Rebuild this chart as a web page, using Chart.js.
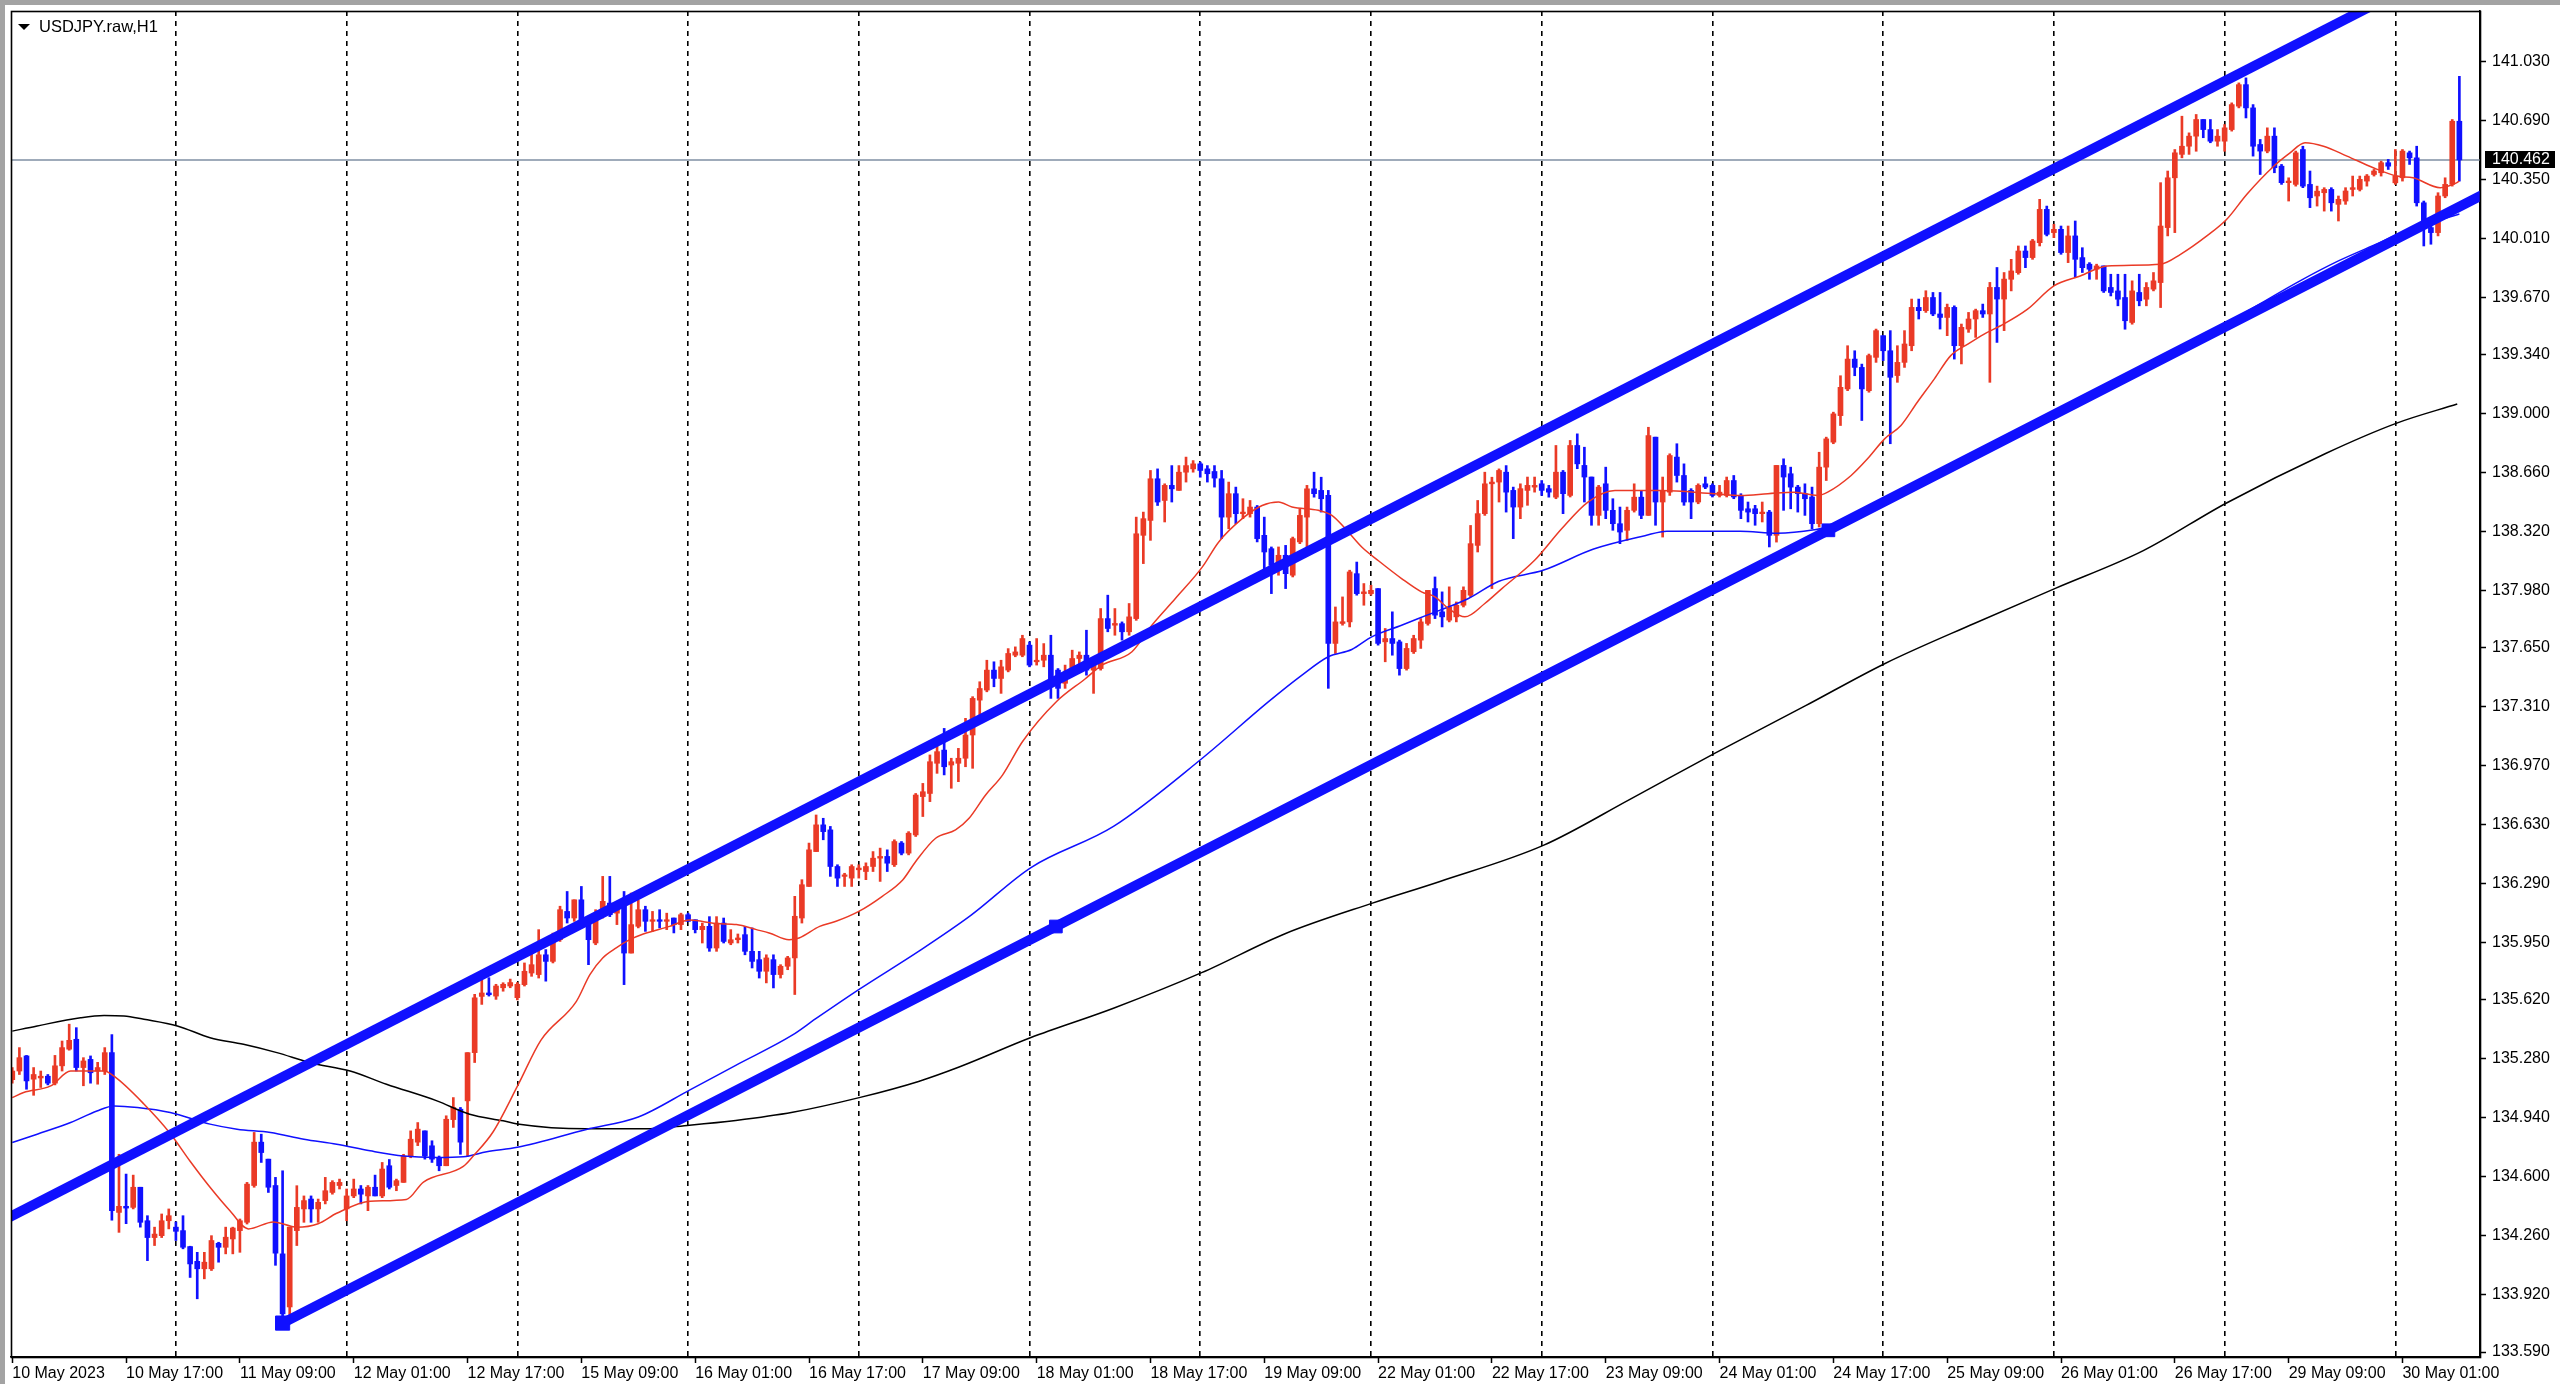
<!DOCTYPE html>
<html>
<head>
<meta charset="utf-8">
<title>USDJPY.raw,H1</title>
<script src="https://cdn.jsdelivr.net/npm/chart.js@4.4.0/dist/chart.umd.min.js"></script>
<style>
html, body { margin: 0; padding: 0; background: #fff; }
#wrap { width: 2560px; height: 1384px; position: relative; }
</style>
</head>
<body>
<div id="wrap"><canvas id="chart"></canvas></div>
<script>
var symbolTitle = "USDJPY.raw,H1";
var lastPrice = 140.462;

// hourly candles, 10 May 01:00 .. 30 May 09:00
var opens = [
  135.16,135.21,135.297,135.163,135.17,135.18,135.14,135.24,135.336,135.393,
  135.23,135.277,135.21,135.21,135.316,134.395,134.43,134.424,134.54,134.347,
  134.25,134.261,134.347,134.31,134.29,134.198,134.113,134.07,134.07,134.217,
  134.194,134.242,134.29,134.338,134.55,134.80,134.702,134.55,134.156,133.85,
  134.29,134.415,134.472,134.415,134.463,134.51,134.55,134.415,134.49,134.53,
  134.49,134.54,134.49,134.664,134.55,134.568,134.72,134.80,134.865,134.779,
  134.712,134.664,134.93,134.99,135.038,135.316,135.64,135.66,135.642,135.69,
  135.70,135.633,135.708,135.775,135.766,135.88,135.842,135.967,136.13,136.092,
  136.197,136.092,135.948,136.10,136.178,136.12,136.188,135.89,136.044,136.14,
  136.073,136.082,136.073,136.092,136.054,136.111,136.082,136.025,136.044,135.919,
  136.063,135.948,135.967,135.996,135.90,135.852,135.785,135.852,135.766,135.814,
  135.862,136.092,136.274,136.475,136.629,136.60,136.389,136.332,136.322,136.37,
  136.36,136.389,136.437,136.447,136.399,136.524,136.466,136.571,136.792,136.81,
  136.984,137.06,136.974,136.984,137.013,137.147,137.348,137.406,137.521,137.473,
  137.521,137.607,137.607,137.665,137.569,137.578,137.607,137.521,137.445,137.492,
  137.588,137.607,137.521,137.53,137.818,137.78,137.789,137.742,137.818,138.298,
  138.384,138.624,138.499,138.586,138.557,138.662,138.681,138.71,138.681,138.666,
  138.624,138.403,138.538,138.423,138.423,138.461,138.298,138.221,138.106,138.183,
  138.068,138.26,138.403,138.566,138.557,138.528,137.675,137.79,137.799,138.077,
  137.962,137.962,137.991,137.684,137.703,137.684,137.53,137.627,137.694,137.79,
  137.991,137.857,137.809,137.828,137.895,137.953,138.24,138.423,138.595,138.605,
  138.662,138.557,138.461,138.557,138.576,138.595,138.567,138.518,138.662,138.528,
  138.816,138.701,138.634,138.413,138.595,138.442,138.365,138.327,138.442,138.518,
  138.413,138.864,138.49,138.547,138.749,138.643,138.557,138.49,138.595,138.586,
  138.528,138.528,138.614,138.528,138.451,138.451,138.423,138.432,138.298,138.701,
  138.653,138.576,138.538,138.519,138.365,138.691,138.835,138.988,139.142,139.314,
  139.266,139.132,139.324,139.449,139.362,139.219,139.295,139.391,139.612,139.593,
  139.669,139.574,139.554,139.612,139.391,139.487,139.545,139.593,139.574,139.727,
  139.66,139.774,139.812,139.937,139.899,139.985,140.177,140.043,140.062,139.928,
  140.024,139.899,139.861,139.832,139.851,139.727,139.707,139.669,139.525,139.698,
  139.659,139.717,139.755,140.072,140.359,140.494,140.541,140.599,140.695,140.637,
  140.570,140.57,140.637,140.772,140.896,140.762,140.551,140.513,140.599,140.426,
  140.331,140.321,140.522,140.321,140.254,140.273,140.292,140.206,140.225,140.292,
  140.292,140.340,140.378,140.388,140.446,140.33,140.359,140.503,140.474,140.215,
  140.072,140.043,140.254,140.321,140.685
];
var highs = [
  135.23,135.345,135.30,135.23,135.21,135.19,135.30,135.383,135.48,135.46,
  135.287,135.297,135.26,135.345,135.42,134.73,134.616,134.61,134.54,134.376,
  134.31,134.386,134.415,134.34,134.376,134.20,134.165,134.165,134.261,134.223,
  134.31,134.31,134.357,134.568,134.856,134.846,134.702,134.597,134.635,134.31,
  134.549,134.49,134.49,134.472,134.597,134.578,134.587,134.53,134.587,134.55,
  134.55,134.61,134.683,134.70,134.587,134.73,134.865,134.913,134.865,134.808,
  134.72,134.952,135.057,135.00,135.316,135.652,135.767,135.748,135.71,135.719,
  135.74,135.72,135.833,135.90,136.025,135.91,136.005,136.16,136.245,136.197,
  136.274,136.10,136.14,136.332,136.332,136.188,136.245,136.236,136.197,136.16,
  136.13,136.14,136.12,136.092,136.12,136.12,136.082,136.063,136.10,136.10,
  136.092,136.025,136.00,136.044,136.035,135.90,135.88,135.88,135.823,135.871,
  136.217,136.313,136.524,136.686,136.667,136.62,136.399,136.35,136.399,136.399,
  136.41,136.475,136.495,136.485,136.543,136.533,136.59,136.81,136.868,137.032,
  137.099,137.185,137.013,137.07,137.243,137.368,137.454,137.578,137.569,137.578,
  137.645,137.655,137.722,137.684,137.703,137.674,137.722,137.53,137.55,137.636,
  137.626,137.751,137.56,137.876,137.953,137.876,137.799,137.905,138.403,138.432,
  138.672,138.681,138.595,138.70,138.70,138.749,138.729,138.72,138.70,138.70,
  138.672,138.605,138.576,138.509,138.499,138.47,138.403,138.231,138.231,138.24,
  138.288,138.451,138.586,138.662,138.633,138.557,137.885,137.943,138.097,138.144,
  138.02,138.01,137.991,137.761,137.857,137.694,137.675,137.722,137.818,137.981,
  138.058,137.972,138.001,137.914,138.001,138.355,138.499,138.662,138.633,138.681,
  138.70,138.576,138.595,138.634,138.634,138.614,138.586,138.816,138.672,138.845,
  138.883,138.806,138.634,138.586,138.691,138.509,138.461,138.461,138.595,138.557,
  138.921,138.864,138.634,138.768,138.826,138.71,138.567,138.595,138.634,138.595,
  138.586,138.634,138.643,138.538,138.49,138.471,138.49,138.442,138.701,138.739,
  138.691,138.586,138.595,138.576,138.777,138.864,139.008,139.218,139.391,139.362,
  139.285,139.343,139.487,139.449,139.478,139.391,139.478,139.66,139.66,139.708,
  139.698,139.698,139.631,139.621,139.516,139.583,139.602,139.631,139.756,139.842,
  139.813,139.889,139.966,139.966,140.004,140.235,140.196,140.091,140.081,140.081,
  140.110,139.956,139.87,139.861,139.851,139.803,139.803,139.803,139.765,139.803,
  139.755,139.813,140.331,140.398,140.522,140.714,140.618,140.724,140.695,140.695,
  140.637,140.666,140.791,140.906,140.935,140.781,140.58,140.647,140.647,140.436,
  140.359,140.513,140.541,140.398,140.311,140.302,140.302,140.254,140.302,140.369,
  140.369,140.378,140.407,140.455,140.465,140.522,140.522,140.513,140.541,140.225,
  140.091,140.273,140.359,140.695,140.944
];
var lows = [
  135.14,135.19,135.105,135.07,135.115,135.13,135.13,135.21,135.33,135.21,
  135.125,135.14,135.134,135.19,134.35,134.28,134.33,134.415,134.31,134.117,
  134.204,134.25,134.30,134.233,134.185,134.02,133.897,134.012,134.06,134.108,
  134.156,134.156,134.165,134.328,134.54,134.683,134.51,134.09,133.757,133.79,
  134.204,134.338,134.338,134.338,134.444,134.50,134.53,134.347,134.48,134.444,
  134.405,134.49,134.48,134.53,134.52,134.568,134.71,134.78,134.702,134.683,
  134.635,134.664,134.885,134.73,134.72,135.259,135.594,135.642,135.623,135.67,
  135.69,135.62,135.70,135.756,135.746,135.728,135.833,135.957,136.063,136.073,
  136.063,135.823,135.938,136.092,136.10,136.054,135.708,135.89,136.035,136.015,
  136.015,136.035,136.025,136.006,136.025,136.073,136.006,135.948,135.90,135.90,
  135.948,135.938,135.948,135.88,135.804,135.746,135.718,135.689,135.746,135.794,
  135.651,136.063,136.274,136.475,136.543,136.332,136.274,136.274,136.274,136.322,
  136.313,136.36,136.303,136.36,136.389,136.456,136.456,136.562,136.677,136.763,
  136.926,136.917,136.84,136.878,136.964,136.955,137.224,137.396,137.425,137.387,
  137.511,137.598,137.598,137.54,137.55,137.54,137.358,137.358,137.416,137.483,
  137.511,137.492,137.387,137.521,137.742,137.722,137.694,137.722,137.808,138.135,
  138.269,138.47,138.375,138.49,138.557,138.605,138.662,138.633,138.605,138.576,
  138.279,138.336,138.365,138.394,138.403,138.26,138.097,137.962,138.068,137.991,
  138.058,138.25,138.202,138.518,138.432,137.416,137.617,137.78,137.77,137.953,
  137.895,137.953,137.665,137.569,137.607,137.492,137.521,137.617,137.646,137.78,
  137.818,137.77,137.799,137.799,137.885,137.943,138.202,138.413,137.991,138.49,
  138.432,138.279,138.394,138.471,138.547,138.528,138.518,138.509,138.423,138.519,
  138.682,138.49,138.356,138.356,138.394,138.327,138.25,138.269,138.432,138.394,
  138.413,138.356,138.288,138.528,138.605,138.471,138.394,138.48,138.567,138.519,
  138.519,138.519,138.509,138.394,138.375,138.356,138.375,138.231,138.259,138.442,
  138.451,138.432,138.413,138.336,138.346,138.614,138.826,138.931,139.132,139.218,
  138.96,139.123,139.295,139.305,138.826,139.18,139.266,139.362,139.545,139.583,
  139.564,139.487,139.449,139.314,139.286,139.468,139.439,139.554,139.18,139.41,
  139.478,139.707,139.803,139.841,139.889,139.966,140.024,140.014,139.918,139.87,
  139.784,139.813,139.774,139.774,139.698,139.678,139.621,139.486,139.515,139.621,
  139.621,139.707,139.611,140.024,140.043,140.474,140.494,140.512,140.59,140.561,
  140.541,140.512,140.628,140.762,140.704,140.484,140.378,140.503,140.388,140.321,
  140.225,140.311,140.302,140.187,140.196,140.167,140.167,140.110,140.206,140.254,
  140.283,140.311,140.369,140.369,140.407,140.321,140.340,140.436,140.196,139.966,
  139.976,140.024,140.244,140.311,140.340
];
var closes = [
  135.21,135.287,135.153,135.19,135.18,135.14,135.24,135.345,135.387,135.23,
  135.268,135.20,135.23,135.316,134.405,134.43,134.42,134.54,134.338,134.25,
  134.27,134.347,134.376,134.286,134.194,134.098,134.07,134.108,134.233,134.194,
  134.252,134.305,134.347,134.558,134.80,134.74,134.54,134.16,133.81,134.31,
  134.424,134.463,134.415,134.453,134.52,134.568,134.568,134.49,134.53,134.50,
  134.54,134.49,134.645,134.54,134.578,134.72,134.817,134.875,134.72,134.702,
  134.664,134.932,135.00,134.80,135.316,135.632,135.66,135.65,135.70,135.71,
  135.72,135.71,135.785,135.823,135.88,135.842,135.986,136.14,136.092,136.197,
  136.063,135.967,136.111,136.188,136.111,136.149,135.89,136.054,136.14,136.073,
  136.082,136.073,136.082,136.054,136.111,136.073,136.025,136.044,135.919,136.063,
  135.957,135.967,135.977,135.90,135.842,135.785,135.862,135.766,135.814,135.862,
  136.102,136.284,136.485,136.629,136.59,136.389,136.322,136.34,136.389,136.38,
  136.389,136.437,136.447,136.408,136.533,136.466,136.581,136.801,136.82,136.993,
  137.051,136.964,136.993,137.013,137.147,137.358,137.415,137.521,137.473,137.54,
  137.617,137.626,137.703,137.55,137.578,137.607,137.435,137.416,137.492,137.588,
  137.607,137.521,137.55,137.818,137.761,137.79,137.742,137.828,138.307,138.394,
  138.624,138.49,138.586,138.566,138.662,138.70,138.71,138.672,138.653,138.628,
  138.403,138.538,138.423,138.432,138.461,138.279,138.202,138.125,138.183,138.077,
  138.279,138.413,138.566,138.538,138.509,137.675,137.799,137.80,138.087,137.962,
  137.972,137.981,137.675,137.703,137.675,137.53,137.646,137.703,137.799,137.981,
  137.838,137.828,137.885,137.895,137.981,138.25,138.423,138.595,138.605,138.672,
  138.547,138.461,138.567,138.586,138.586,138.557,138.547,138.662,138.538,138.816,
  138.71,138.634,138.413,138.576,138.442,138.365,138.317,138.442,138.518,138.413,
  138.873,138.49,138.557,138.758,138.643,138.49,138.49,138.586,138.576,138.528,
  138.547,138.614,138.519,138.442,138.432,138.423,138.432,138.298,138.701,138.634,
  138.576,138.538,138.509,138.365,138.691,138.854,138.998,139.151,139.314,139.266,
  139.142,139.334,139.478,139.362,139.209,139.295,139.401,139.612,139.593,139.669,
  139.574,139.554,139.612,139.391,139.497,139.545,139.593,139.574,139.727,139.66,
  139.775,139.822,139.937,139.899,139.995,140.177,140.033,140.062,139.928,140.024,
  139.889,139.841,139.832,139.851,139.707,139.698,139.659,139.535,139.707,139.650,
  139.727,139.765,140.081,140.359,140.503,140.541,140.599,140.695,140.637,140.570,
  140.599,140.647,140.781,140.896,140.762,140.541,140.513,140.599,140.417,140.331,
  140.340,140.503,140.311,140.244,140.282,140.292,140.215,140.235,140.283,140.302,
  140.350,140.369,140.398,140.446,140.426,140.369,140.513,140.474,140.215,140.072,
  140.043,140.254,140.321,140.685,140.462
];

// moving averages (bar position, price)
var fastMaX = [0,1.6,5.4,8.2,12.9,14.3,18.5,22.2,25,27.8,30.6,33.2,36.7,40,43,45.6,50.3,55.4,57.8,63.4,64.8,67.6,71.1,74.3,79.3,81.2,83,84.9,86.8,88.7,92.4,95.2,99,101.8,104.6,106.4,109.2,110.6,113.5,115.8,119,122.3,125.2,127,129.8,132.6,134.5,136.8,139.2,142,146.8,150.8,153.2,157.4,160.2,163.5,167.3,169.6,172.9,175.7,178,179.9,183.6,185.5,187.4,189.7,192.1,195.3,198.1,200,201.9,204.2,207,209.4,214,217.8,221.5,225.3,231.8,239.3,243,246.8,250.5,253.8,255.2,258.5,260.8,263.2,265.5,267.8,270.2,272.5,274.9,277.2,279.5,283.3,287,290.7,294.5,302,304.8,308.5,311.3,314.1,317.9,320.2,322.3,324.9,328.2,331.9,335.2,337.5,341.3,343.6,344];
var fastMaY = [135.057,135.086,135.124,135.21,135.21,135.18,135.02,134.85,134.69,134.54,134.405,134.30,134.34,134.31,134.33,134.39,134.46,134.47,134.57,134.66,134.72,134.86,135.13,135.387,135.612,135.766,135.862,135.92,135.967,136.0,136.044,136.08,136.06,136.054,136.025,136.006,135.967,135.977,136.044,136.073,136.13,136.217,136.313,136.418,136.552,136.60,136.667,136.80,136.916,137.108,137.34,137.47,137.55,137.627,137.78,137.934,138.116,138.26,138.394,138.47,138.49,138.461,138.442,138.413,138.336,138.231,138.15,138.049,137.972,137.943,137.876,137.828,137.905,137.991,138.154,138.336,138.49,138.557,138.557,138.538,138.528,138.538,138.547,138.528,138.547,138.643,138.739,138.854,138.931,139.065,139.2,139.334,139.40,139.458,139.506,139.602,139.736,139.793,139.851,139.861,139.918,140.024,140.12,140.263,140.426,140.503,140.561,140.541,140.484,140.417,140.369,140.359,140.302,140.33,140.34];

var midMaX = [0,3.5,8.2,11.9,14.3,17.6,22.2,27.8,31.6,36.3,41,45.6,50.3,55,59.7,63.4,66.7,71,80.7,88,95.2,101.7,109.7,112.9,119.2,127.4,134.7,143.2,154.8,167.2,176.6,181.3,185,188.3,191.1,195.3,198.6,204.7,208.9,215.3,222.3,229.5,232.6,242.9,248.1,253.3,256.1,265,275,285,291.2,300,310,321.6,327,332.8,337.5,343.1,344];
var midMaY = [134.798,134.846,134.913,134.98,135.009,135.0,134.971,134.904,134.875,134.856,134.817,134.788,134.75,134.72,134.712,134.716,134.745,134.77,134.873,134.945,135.10,135.243,135.418,135.51,135.685,135.90,136.106,136.383,136.62,137.01,137.339,137.492,137.598,137.64,137.713,137.78,137.834,137.934,138.032,138.098,138.219,138.296,138.322,138.322,138.31,138.33,138.356,138.54,138.75,138.96,139.10,139.27,139.49,139.765,139.88,139.985,140.072,140.139,140.15];

var slowMaX = [0,3.5,9.6,12.9,15.7,18.5,23.2,27.8,32.5,37.2,41.9,47.5,52.6,59.7,64.3,69,71,80.7,88.8,95.2,101.7,109.7,119.2,127.4,133.1,143.2,154.8,167.2,179,191.2,200.7,215.3,227.4,239.3,252.1,263.2,275.8,287.2,299.5,311.2,325.2,335.2,343.7];
var slowMaY = [135.44,135.47,135.517,135.53,135.527,135.508,135.47,135.402,135.364,135.316,135.258,135.21,135.134,135.038,134.961,134.923,134.905,134.877,134.877,134.898,134.925,134.972,135.058,135.15,135.233,135.403,135.572,135.777,136.003,136.178,136.303,136.512,136.776,137.041,137.316,137.558,137.79,137.992,138.208,138.483,138.77,138.945,139.055];

// channel lines drawn on the chart (bar position, price)
var upperLineX = [-1, 348];
var upperLineY = [134.355, 141.694];
var lowerLineX = [38, 146.7, 255.3, 348];
var lowerLineY = [133.757, 136.043, 138.327, 140.276];

// axis ticks
var timeTickX = [0,16,32,48,64,80,96,112,128,144,160,176,192,208,224,240,256,272,288,304,320,336];
var timeTickLabels = ["10 May 2023","10 May 17:00","11 May 09:00","12 May 01:00","12 May 17:00","15 May 09:00","16 May 01:00","16 May 17:00","17 May 09:00","18 May 01:00","18 May 17:00","19 May 09:00","22 May 01:00","22 May 17:00","23 May 09:00","24 May 01:00","24 May 17:00","25 May 09:00","26 May 01:00","26 May 17:00","29 May 09:00","30 May 01:00"];
var dayBreakX = [23,47,71,95,119,143,167,191,215,239,263,287,311,335];
var priceTicks = [141.030,140.690,140.350,140.010,139.670,139.340,139.000,138.660,138.320,137.980,137.650,137.310,136.970,136.630,136.290,135.950,135.620,135.280,134.940,134.600,134.260,133.920,133.590];

var RED = "#ea3a26";
var BLUE = "#1010ff";
var FONT = { family: "'Liberation Sans', Arial, sans-serif", size: 16 };

function pts(xs, ys) {
  return xs.map(function(x, i) { return { x: x, y: ys[i] }; });
}
function candleColor(ctx) {
  var i = ctx.dataIndex;
  return closes[i] >= opens[i] ? RED : BLUE;
}

var bodies = opens.map(function(o, i) { return { x: i, y: [o, closes[i]] }; });
var wicks = lows.map(function(l, i) { return { x: i, y: [l, highs[i]] }; });

var frame = {
  id: "frame",
  beforeDraw: function(chart) {
    var c = chart.ctx;
    c.save();
    c.fillStyle = "#ffffff";
    c.fillRect(0, 0, chart.width, chart.height);
    c.fillStyle = "#a3a3a3";
    c.fillRect(0, 0, chart.width, 5);
    c.fillRect(0, 0, 5, chart.height);
    c.restore();
  },
  afterDraw: function(chart) {
    var c = chart.ctx, a = chart.chartArea, ys = chart.scales.y;
    c.save();
    c.strokeStyle = "#000";
    c.lineWidth = 1.6;
    c.strokeRect(a.left + 0.5, a.top + 0.5, a.right - a.left, a.bottom - a.top);

    // last price tag on the axis
    var py = Math.round(ys.getPixelForValue(lastPrice));
    c.fillStyle = "#000";
    c.fillRect(a.right + 5, py - 9, 70, 17);
    c.fillStyle = "#fff";
    c.font = "16px 'Liberation Sans'";
    c.textBaseline = "middle";
    c.textAlign = "left";
    c.fillText(lastPrice.toFixed(3), a.right + 12, py);

    // symbol caption
    c.fillStyle = "#000";
    c.beginPath();
    c.moveTo(a.left + 7, a.top + 13);
    c.lineTo(a.left + 19, a.top + 13);
    c.lineTo(a.left + 13, a.top + 19);
    c.closePath();
    c.fill();
    c.font = "16.5px 'Liberation Sans'";
    c.fillText(symbolTitle, a.left + 28, a.top + 16);
    c.restore();
  }
};

new Chart(document.getElementById("chart"), {
  type: "line",
  data: {
    datasets: [
      { type: "line", data: pts(upperLineX, upperLineY), borderColor: BLUE, borderWidth: 10, pointRadius: 0, clip: 0, order: 0 },
      { type: "line", data: pts(lowerLineX, lowerLineY), borderColor: BLUE, borderWidth: 10, clip: 0, order: 0,
        pointStyle: "rect", pointRadius: [10, 9, 9, 0], pointBackgroundColor: BLUE, pointBorderColor: BLUE, pointBorderWidth: 1 },
      { type: "line", data: pts(fastMaX, fastMaY), borderColor: RED, borderWidth: 1.5, pointRadius: 0, cubicInterpolationMode: "monotone", order: 1 },
      { type: "line", data: pts(midMaX, midMaY), borderColor: BLUE, borderWidth: 1.5, pointRadius: 0, cubicInterpolationMode: "monotone", order: 1 },
      { type: "line", data: pts(slowMaX, slowMaY), borderColor: "#000", borderWidth: 1.5, pointRadius: 0, cubicInterpolationMode: "monotone", order: 1 },
      { type: "bar", data: bodies, backgroundColor: candleColor, barThickness: 5, grouped: false, minBarLength: 1.5, borderWidth: 0, order: 2 },
      { type: "bar", data: wicks, backgroundColor: candleColor, barThickness: 2, grouped: false, minBarLength: 1, borderWidth: 0, order: 3 },
      { type: "line", data: pts([-1, 348], [lastPrice, lastPrice]), borderColor: "#7f8fa3", borderWidth: 1.5, pointRadius: 0, clip: 0, order: 6 }
    ]
  },
  options: {
    responsive: true,
    maintainAspectRatio: false,
    devicePixelRatio: 1,
    animation: false,
    layout: { padding: { top: 8, left: 7, right: 0, bottom: 0 } },
    plugins: { legend: { display: false }, tooltip: { enabled: false }, title: { display: false } },
    scales: {
      x: {
        type: "linear", position: "bottom", min: -0.18, max: 346.9, offset: false,
        afterBuildTicks: function(s) { s.ticks = timeTickX.map(function(v) { return { value: v }; }); },
        afterFit: function(s) { s.height = 27; s.paddingLeft = 0; s.paddingRight = 0; },
        ticks: {
          autoSkip: false, maxRotation: 0, minRotation: 0, align: "start", padding: 1, color: "#000", font: FONT,
          callback: function(v) { var k = timeTickX.indexOf(v); return k < 0 ? "" : timeTickLabels[k]; }
        },
        grid: { drawOnChartArea: false, drawTicks: true, tickLength: 6, tickColor: "#000", tickWidth: 1.5, offset: false },
        border: { display: true, color: "#000", width: 1.6 }
      },
      xg: {
        type: "linear", position: "top", min: -0.18, max: 346.9, offset: false,
        afterBuildTicks: function(s) { s.ticks = dayBreakX.map(function(v) { return { value: v }; }); },
        afterFit: function(s) { s.height = 0; s.paddingLeft = 0; s.paddingRight = 0; },
        ticks: { display: false },
        grid: { drawOnChartArea: true, drawTicks: false, color: "#000", lineWidth: 1.6, offset: false, borderDash: [5, 5] },
        border: { display: false, dash: [5, 5] }
      },
      y: {
        type: "linear", position: "right", min: 133.5615, max: 141.3205,
        afterBuildTicks: function(s) { s.ticks = priceTicks.map(function(v) { return { value: v }; }); },
        afterFit: function(s) { s.width = 80; s.paddingTop = 0; s.paddingBottom = 0; },
        ticks: { padding: 6, color: "#000", font: FONT, callback: function(v) { return v.toFixed(3); } },
        grid: { drawOnChartArea: false, drawTicks: true, tickLength: 6, tickColor: "#000", tickWidth: 1.5 },
        border: { display: true, color: "#000", width: 1.6 }
      }
    }
  },
  plugins: [frame]
});
</script>
</body>
</html>
